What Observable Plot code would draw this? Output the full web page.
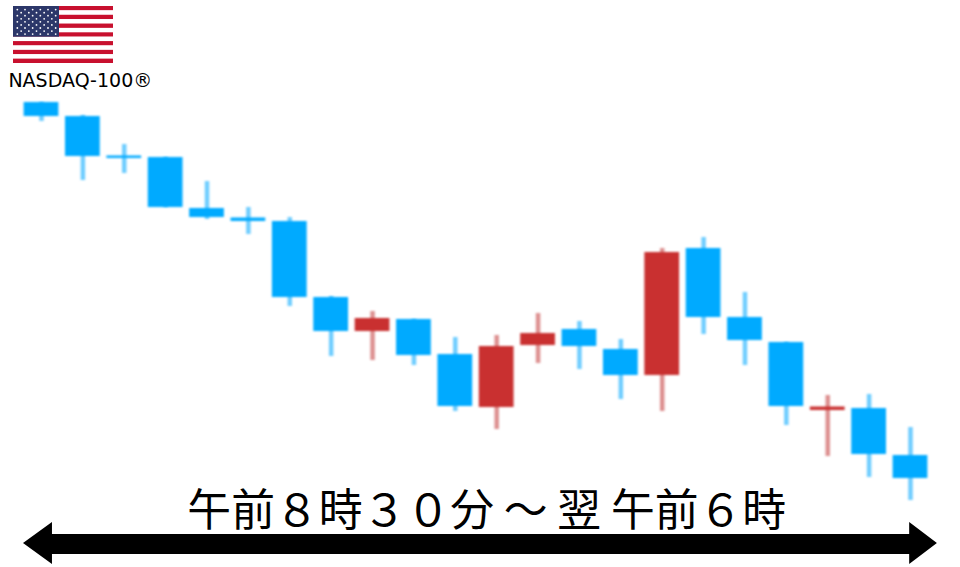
<!DOCTYPE html>
<html><head><meta charset="utf-8">
<script src="https://cdn.jsdelivr.net/npm/d3@7"></script>
<script src="https://cdn.jsdelivr.net/npm/@observablehq/plot@0.6"></script>
<style>
html,body{margin:0;padding:0;background:#fff}
#c{position:relative;width:960px;height:567px;overflow:hidden}
#c svg{position:absolute;background:transparent}
</style></head><body><div id="c"></div>
<script>
// Values are read off the picture on its own vertical pixel scale (no axis is shown).
const opens  = [102,116,155.5,157,208,217.5,221,297,331,319,354,407,345,329,349,375,248,317,342,410,408,455];
const closes = [116,156,158,207,217,221,297,331,318,355,406,346,333,346,375,252,317,340,406,406.5,454,478];
const highs  = [102,115,144,157,181,207,217,296,311,319,337,335,313,321,339,248,237,292,342,395,394,427];
const lows   = [121,180,173,207,219,234,306,356,360,365,411,429,363,369,399,411,334,365,425,456,477,500];
const label = "NASDAQ-100®";
const span = "午前８時３０分 ～ 翌 午前６時";
const candles = opens.map((o,i)=>({i,o,c:closes[i],h:highs[i],l:lows[i],up:closes[i]<o}));
const BLUE="#00aaff", RED="#c93030", LBLUE="#6fcdff", LRED="#dd9090";
const halfBody=0.42;
const arrow=[
 {x:-0.435,y1:543,y2:543},{x:0.265,y1:522,y2:564},{x:0.265,y1:534,y2:554},
 {x:20.98,y1:534,y2:554},{x:20.98,y1:522,y2:564},{x:21.65,y1:543,y2:543}
];
const main=Plot.plot({
  width:960,height:567,margin:0,marginLeft:41,marginRight:50,
  x:{domain:[0,21],axis:null},
  y:{domain:[567,0],range:[567,0],axis:null},
  style:{background:"transparent"},
  marks:[
    Plot.ruleX(candles,{x:"i",y1:"h",y2:"l",stroke:d=>d.up?LRED:LBLUE,strokeWidth:4.5}),
    Plot.rect(candles,{x1:d=>d.i-halfBody,x2:d=>d.i+halfBody,y1:"o",y2:"c",fill:d=>d.up?RED:BLUE}),
    Plot.areaY(arrow,{x:"x",y1:"y1",y2:"y2",fill:"#000",curve:"linear"}),
    Plot.text([span],{x:[10.76],y:[511],text:d=>d,fontSize:43.8,fill:"#000",fontFamily:"'Noto Sans CJK JP'",textAnchor:"middle",lineAnchor:"middle"}),
    Plot.text([label],{x:[-0.8],y:[80],text:d=>d,fontSize:19,fill:"#000",fontFamily:"'DejaVu Sans'",textAnchor:"start",lineAnchor:"middle"})
  ]
});
main.style.left="0";main.style.top="0";
d3.select(main).selectAll("rect,line").style("filter","none");
d3.select(main).selectAll("g[aria-label='rect'],g[aria-label='rule']").style("filter","blur(1px)");
document.getElementById("c").append(main);

// Flag
const stripes=d3.range(13);
const starRows=d3.range(9);
const stars=starRows.flatMap(r=>d3.range(r%2?5:6).map(k=>({x:(r%2?2:1)+k*2,y:r+1})));
const flag=Plot.plot({
  width:100,height:57,margin:0,
  x:{domain:[0,1],axis:null},
  y:{domain:[0,13],range:[0,57],axis:null},
  style:{background:"transparent"},
  marks:[
    Plot.rect(stripes,{x1:0,x2:1,y1:d=>d,y2:d=>d+1,fill:d=>d%2?"#fff":"#c8102e"}),
    Plot.rect([0],{x1:0,x2:0.46,y1:0,y2:7,fill:"#2c3769"}),
    Plot.dot(stars,{x:d=>d.x/12*0.46,y:d=>d.y/10*7,r:0.9,fill:"#fff"})
  ]
});
flag.style.left="13px";flag.style.top="6px";
flag.style.filter="blur(0.4px)";
document.getElementById("c").append(flag);
</script></body></html>
